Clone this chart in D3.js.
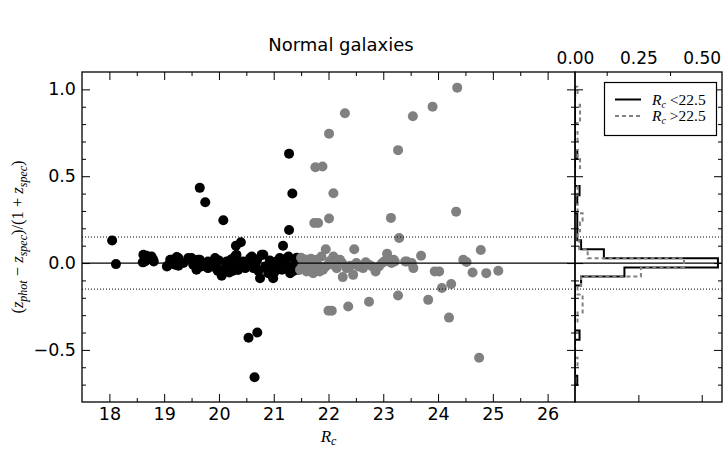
<!DOCTYPE html>
<html><head><meta charset="utf-8">
<script src="https://cdn.jsdelivr.net/npm/d3@7"></script>
<style>body{margin:0;background:#fff}svg{display:block}</style>
</head><body>
<script>
// ---------- DATA ----------
const titleText = "Normal galaxies";
const xTicks = [18,19,20,21,22,23,24,25,26];
const xMinor = [18.5,19.5,20.5,21.5,22.5,23.5,24.5,25.5];
const yTicks = [-0.5,0.0,0.5,1.0];
const yMinor = [-0.7,-0.6,-0.4,-0.3,-0.2,-0.1,0.1,0.2,0.3,0.4,0.6,0.7,0.8,0.9];
const histTicks = [0.00,0.25,0.50];
const histTopMinor = [0.125,0.375];
const histBottomTicks = [0.25,0.50];
const limitLines = [0.15,-0.15];

// bright sample (black): [Rc, dz]
const brightRc = [18.05,18.12,19.65,19.75,20.08,21.28,21.34,21.28,21.17,20.31,20.40,20.54,20.70,20.65,
 18.61,18.62,18.68,18.71,18.65,18.77,18.81,18.80,
 19.05,19.06,19.11,19.14,19.20,19.23,19.26,19.26,19.35,19.44,19.50,19.53,19.56,19.59,19.62,19.68,19.65,19.56,
 19.80,19.80,19.93,19.95,20.05,20.14,20.17,20.19,20.29,20.29,20.32,20.38,20.44,20.48,20.57,20.60,20.63,20.66,20.75,20.78,20.81,20.84,20.87,20.90,20.99,21.05,21.11,21.15,21.17,21.24,21.27,21.30,21.33,21.39,21.45,
 19.88,20.00,20.22,20.35,20.52,20.70,20.72,20.93,20.96,21.02,21.08,21.20,21.36,21.42,21.40,20.10,19.98,19.72,20.25];
const brightDz = [0.13,-0.006,0.433,0.35,0.246,0.63,0.40,0.19,0.10,0.10,0.12,-0.43,-0.40,-0.658,
 0.004,0.048,0.042,0.029,0.009,0.038,0.009,0.019,
 -0.02,-0.016,0.019,0.019,-0.01,0.035,0.029,-0.016,0,0.029,0.029,-0.01,0,-0.039,0.019,-0.02,0.019,0.009,
 0.009,-0.029,0.029,-0.029,-0.073,0.009,-0.01,-0.054,0.038,-0.02,0.048,0,0.009,-0.029,0.029,0.038,-0.029,-0.01,-0.087,0.048,0.048,-0.02,-0.029,-0.058,-0.087,0.009,0.029,-0.039,-0.029,0.029,0.038,-0.058,-0.02,0.019,-0.039,
 0.0,0.015,0.02,-0.04,-0.015,0.02,-0.045,0.015,-0.02,-0.05,-0.015,0.0,-0.045,0.03,-0.01,-0.03,-0.045,0.0,-0.045];

// faint sample (gray): [Rc, dz]
const faintRc = [24.35,23.90,23.54,22.30,22.01,23.27,21.76,21.89,22.09,21.74,21.81,22.01,23.14,24.33,23.29,
 22.47,21.95,24.78,23.07,23.69,22.09,21.87,
 22.26,22.45,24.07,24.24,23.27,23.82,22.74,22.36,22.00,22.06,24.20,24.75,
 21.48,21.54,21.60,21.66,21.72,21.78,21.84,21.90,22.09,22.21,22.33,22.51,22.63,22.74,22.86,22.98,23.10,23.19,23.21,23.40,23.43,23.52,23.55,23.94,24.02,24.46,24.52,24.63,24.88,25.10,
 21.52,21.58,21.63,21.70,21.75,21.82,21.95,22.02,22.15,22.25,22.40,22.55,22.68,22.80,22.92,23.02,23.15,21.50,21.68];
const faintDz = [1.01,0.90,0.845,0.862,0.745,0.65,0.552,0.556,0.402,0.231,0.231,0.256,0.26,0.296,0.144,
 0.079,0.079,0.075,0.054,0.042,0.038,0.038,
 -0.081,-0.068,-0.144,-0.121,-0.187,-0.212,-0.223,-0.25,-0.274,-0.275,-0.314,-0.545,
 -0.039,0.009,-0.048,-0.01,-0.058,0.019,-0.048,-0.039,-0.01,0.019,-0.029,0,-0.029,-0.01,-0.048,0,0.009,0.019,0.009,0.009,0.009,0,-0.029,-0.048,-0.048,0.019,0.006,-0.054,-0.058,-0.044,
 -0.02,0.02,-0.035,0.0,-0.03,-0.015,-0.02,0.01,-0.03,0.0,-0.015,-0.02,0.005,-0.02,-0.02,0.01,0.0,0.03,0.025];

// histogram (fraction per bin), shared bin edges
const histEdges = [-0.701,-0.649,-0.597,-0.545,-0.493,-0.441,-0.389,-0.337,-0.285,-0.233,-0.181,-0.129,-0.077,-0.025,0.027,0.079,0.131,0.183,0.235,0.287,0.339,0.391,0.443,0.495,0.547,0.599,0.651,0.703,0.755,0.807,0.859,0.911,0.963,1.015];
const histBright = [0.009,0,0,0,0,0.018,0,0,0,0,0,0.024,0.195,0.564,0.114,0.024,0.009,0.009,0.009,0,0.009,0.018,0,0,0,0.009,0,0,0,0,0,0,0];
const histFaint  = [0,0,0.01,0,0,0,0,0.01,0.03,0.03,0.01,0.024,0.26,0.43,0.05,0.017,0.01,0.02,0.03,0.01,0,0.01,0,0,0.02,0.01,0,0.01,0,0.02,0.02,0,0.01];
const legendLabels = ["<22.5", ">22.5"];

// ---------- LAYOUT ----------
const W = 725, H = 449;
const M = {l:82, r:575, t:72, b:402};
const HX = {l:575, r:722};
const svg = d3.select("body").append("svg").attr("width",W).attr("height",H)
  .style("font-family","'DejaVu Sans', sans-serif");

const x = d3.scaleLinear().domain([17.5,26.5]).range([M.l,M.r]);
const y = d3.scaleLinear().domain([-0.8,1.1]).range([M.b,M.t]);
const hx = d3.scaleLinear().domain([0,0.58]).range([HX.l,HX.r]);

svg.append("defs").append("clipPath").attr("id","cm").append("rect")
  .attr("x",M.l).attr("y",M.t).attr("width",M.r-M.l).attr("height",M.b-M.t);
svg.select("defs").append("clipPath").attr("id","ch").append("rect")
  .attr("x",HX.l).attr("y",M.t).attr("width",HX.r-HX.l).attr("height",M.b-M.t);

// title
svg.append("text").attr("x",341).attr("y",51).attr("text-anchor","middle")
  .attr("font-size",18).text(titleText);

// scatter
const gm = svg.append("g").attr("clip-path","url(#cm)");
gm.selectAll("circle.b").data(d3.range(brightRc.length)).join("circle")
  .attr("cx",i=>x(brightRc[i])).attr("cy",i=>y(brightDz[i])).attr("r",5).attr("fill","#000");
gm.selectAll("circle.f").data(d3.range(faintRc.length)).join("circle")
  .attr("cx",i=>x(faintRc[i])).attr("cy",i=>y(faintDz[i])).attr("r",5).attr("fill","#808080");

// zero + limit lines across both panels
svg.append("line").attr("x1",M.l).attr("x2",HX.r).attr("y1",y(0)).attr("y2",y(0))
  .attr("stroke","#000").attr("stroke-width",1.3);
limitLines.forEach(v=>{
  svg.append("line").attr("x1",M.l).attr("x2",HX.r).attr("y1",y(v)).attr("y2",y(v))
    .attr("stroke","#000").attr("stroke-width",1).attr("stroke-dasharray","1,2");
});

// histograms
const gh = svg.append("g").attr("clip-path","url(#ch)");
function stepPts(vals){
  const pts=[[0,histEdges[0]]];
  vals.forEach((v,i)=>{pts.push([v,histEdges[i]]);pts.push([v,histEdges[i+1]]);});
  pts.push([0,histEdges[histEdges.length-1]]);
  return pts;
}
const line = d3.line().x(d=>hx(d[0])).y(d=>y(d[1]));
gh.append("path").attr("d",line(stepPts(histBright))).attr("fill","none")
  .attr("stroke","#000").attr("stroke-width",2);
gh.append("path").attr("d",line(stepPts(histFaint))).attr("fill","none")
  .attr("stroke","#808080").attr("stroke-width",2).attr("stroke-dasharray","4,3");

// axes helper
function styleAx(g, fs){
  g.select(".domain").remove();
  g.selectAll(".tick line").attr("stroke","#000").attr("stroke-width",1);
  g.selectAll(".tick text").attr("fill","#000").attr("font-size",fs||17.5)
    .style("font-family","'DejaVu Sans', sans-serif");
}
// main x
svg.append("g").attr("transform",`translate(0,${M.b})`)
  .call(d3.axisBottom(x).tickValues(xTicks).tickSize(-8).tickPadding(6).tickFormat(d3.format("d"))).call(g=>styleAx(g));
svg.append("g").attr("transform",`translate(0,${M.b})`)
  .call(d3.axisBottom(x).tickValues(xMinor).tickSize(-4).tickFormat("")).call(g=>styleAx(g));
svg.append("g").attr("transform",`translate(0,${M.t})`)
  .call(d3.axisTop(x).tickValues(xTicks).tickSize(-8).tickFormat("")).call(g=>styleAx(g));
svg.append("g").attr("transform",`translate(0,${M.t})`)
  .call(d3.axisTop(x).tickValues(xMinor).tickSize(-4).tickFormat("")).call(g=>styleAx(g));
// main y
svg.append("g").attr("transform",`translate(${M.l},0)`)
  .call(d3.axisLeft(y).tickValues(yTicks).tickSize(-8).tickPadding(6).tickFormat(d3.format(".1f"))).call(g=>styleAx(g));
svg.append("g").attr("transform",`translate(${M.l},0)`)
  .call(d3.axisLeft(y).tickValues(yMinor).tickSize(-4).tickFormat("")).call(g=>styleAx(g));
svg.append("g").attr("transform",`translate(${M.r},0)`)
  .call(d3.axisRight(y).tickValues(yTicks).tickSize(-8).tickFormat("")).call(g=>styleAx(g));
svg.append("g").attr("transform",`translate(${M.r},0)`)
  .call(d3.axisRight(y).tickValues(yMinor).tickSize(-4).tickFormat("")).call(g=>styleAx(g));
// hist y ticks
svg.append("g").attr("transform",`translate(${HX.l},0)`)
  .call(d3.axisLeft(y).tickValues(yTicks).tickSize(-8).tickFormat("")).call(g=>styleAx(g));
svg.append("g").attr("transform",`translate(${HX.l},0)`)
  .call(d3.axisLeft(y).tickValues(yMinor).tickSize(-4).tickFormat("")).call(g=>styleAx(g));
svg.append("g").attr("transform",`translate(${HX.r},0)`)
  .call(d3.axisRight(y).tickValues(yTicks).tickSize(-8).tickFormat("")).call(g=>styleAx(g));
svg.append("g").attr("transform",`translate(${HX.r},0)`)
  .call(d3.axisRight(y).tickValues(yMinor).tickSize(-4).tickFormat("")).call(g=>styleAx(g));
// hist x
svg.append("g").attr("transform",`translate(0,${M.t})`)
  .call(d3.axisTop(hx).tickValues(histTicks).tickSize(0).tickPadding(8).tickFormat(d3.format(".2f"))).call(g=>styleAx(g,17));
svg.append("g").attr("transform",`translate(0,${M.t})`)
  .call(d3.axisTop(hx).tickValues(histTopMinor).tickSize(-4).tickFormat("")).call(g=>styleAx(g));
svg.append("g").attr("transform",`translate(0,${M.b})`)
  .call(d3.axisBottom(hx).tickValues(histBottomTicks).tickSize(-7).tickFormat("")).call(g=>styleAx(g));

// frames
svg.append("rect").attr("x",M.l).attr("y",M.t).attr("width",M.r-M.l).attr("height",M.b-M.t)
  .attr("fill","none").attr("stroke","#000").attr("stroke-width",1.3);
svg.append("rect").attr("x",HX.l).attr("y",M.t).attr("width",HX.r-HX.l).attr("height",M.b-M.t)
  .attr("fill","none").attr("stroke","#000").attr("stroke-width",1.3);

// axis labels (math style)
const serif = "'Liberation Serif', 'DejaVu Serif', serif";
const xl = svg.append("text").attr("x",(M.l+M.r)/2).attr("y",442).attr("text-anchor","middle")
  .attr("font-size",17).style("font-family",serif);
xl.append("tspan").attr("font-style","italic").text("R");
xl.append("tspan").attr("font-style","italic").attr("font-size",12).attr("dy",3).text("c");

const yl = svg.append("text").attr("transform",`translate(23,${(M.t+M.b)/2}) rotate(-90)`)
  .attr("text-anchor","middle").attr("font-size",16.5).style("font-family",serif);
function part(t,it){ return yl.append("tspan").attr("font-style",it?"italic":"normal").text(t); }
part("(",false); part("z",true);
yl.append("tspan").attr("font-style","italic").attr("font-size",12).attr("dy",4).text("phot");
yl.append("tspan").attr("dy",-4).text(" − ");
part("z",true);
yl.append("tspan").attr("font-style","italic").attr("font-size",12).attr("dy",4).text("spec");
yl.append("tspan").attr("dy",-4).text(")/(1 + ");
part("z",true);
yl.append("tspan").attr("font-style","italic").attr("font-size",12).attr("dy",4).text("spec");
yl.append("tspan").attr("dy",-4).text(")");

// legend
const lg = svg.append("g");
lg.append("rect").attr("x",604.5).attr("y",82.5).attr("width",112).attr("height",53)
  .attr("fill","#fff").attr("stroke","#000").attr("stroke-width",1.2);
const lgStyles = [{c:"#000",d:null},{c:"#808080",d:"4,3"}];
legendLabels.forEach((lab,i)=>{
  const cy = 99.5 + i*16.5;
  lg.append("line").attr("x1",615).attr("x2",641).attr("y1",cy).attr("y2",cy)
    .attr("stroke",lgStyles[i].c).attr("stroke-width",2).attr("stroke-dasharray",lgStyles[i].d);
  const t = lg.append("text").attr("x",652).attr("y",cy+5).attr("font-size",15.5).style("font-family",serif);
  t.append("tspan").attr("font-style","italic").text("R");
  t.append("tspan").attr("font-style","italic").attr("font-size",10).attr("dy",3).text("c");
  t.append("tspan").attr("dy",-3).text(" " + lab);
});
</script>
</body></html>
